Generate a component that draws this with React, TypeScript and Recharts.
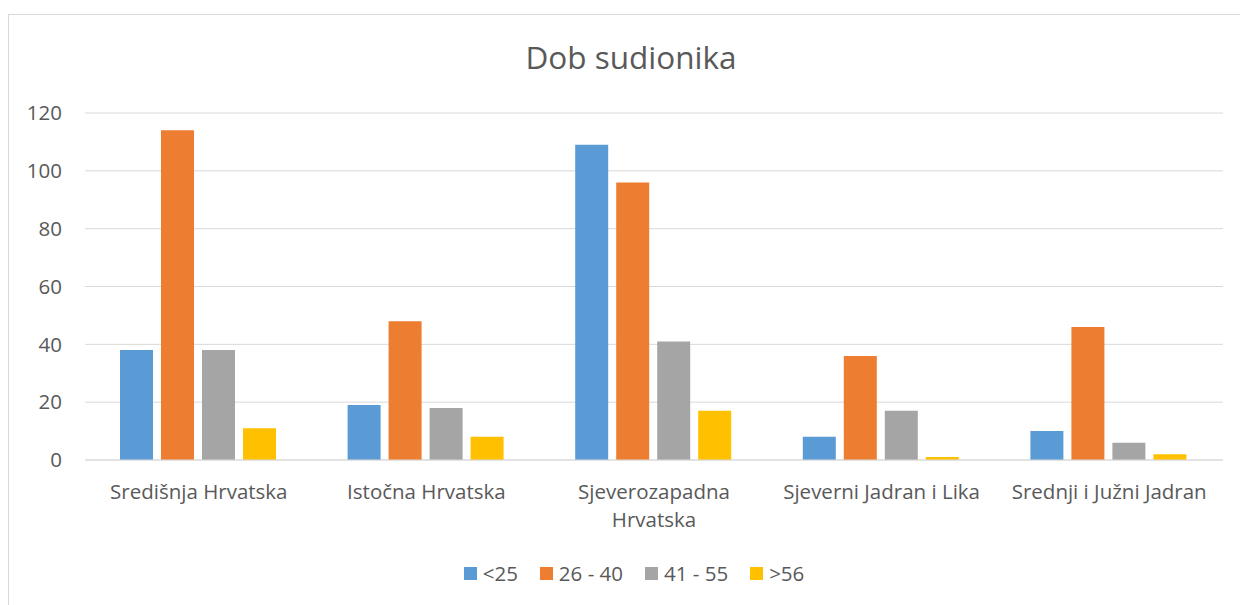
import React from 'react';
import { BarChart, Bar, XAxis, YAxis, CartesianGrid, Legend } from 'recharts';

const regions = [
  'Središnja Hrvatska',
  'Istočna Hrvatska',
  'Sjeverozapadna Hrvatska',
  'Sjeverni Jadran i Lika',
  'Srednji i Južni Jadran',
];

const under25 = [38, 19, 109, 8, 10];
const age26to40 = [114, 48, 96, 36, 46];
const age41to55 = [38, 18, 41, 17, 6];
const over56 = [11, 8, 17, 1, 2];

const yTicks = [0, 20, 40, 60, 80, 100, 120];

const series = [
  { key: 'a', name: '<25', color: '#5B9BD5', values: under25 },
  { key: 'b', name: '26 - 40', color: '#ED7D31', values: age26to40 },
  { key: 'c', name: '41 - 55', color: '#A5A5A5', values: age41to55 },
  { key: 'd', name: '>56', color: '#FFC000', values: over56 },
];

const data = regions.map((region, i) => {
  const row: Record<string, string | number> = { region };
  series.forEach((s) => {
    row[s.key] = s.values[i];
  });
  return row;
});

const FONT = '"Open Sans", sans-serif';
const TEXT = '#595959';
const FS = 20.5;

// greedy word wrap, measured with a canvas so it matches the rendered font
let ctx: CanvasRenderingContext2D | null = null;
const wrap = (label: string, maxWidth: number) => {
  if (!ctx) {
    ctx = document.createElement('canvas').getContext('2d');
  }
  if (!ctx) return [label];
  ctx.font = `${FS}px ${FONT}`;
  const lines: string[] = [];
  let cur = '';
  label.split(' ').forEach((w) => {
    const next = cur ? `${cur} ${w}` : w;
    if (cur && ctx!.measureText(next).width > maxWidth) {
      lines.push(cur);
      cur = w;
    } else {
      cur = next;
    }
  });
  if (cur) lines.push(cur);
  return lines;
};

const CategoryTick = (props: any) => {
  const { x, y, payload } = props;
  const lines = wrap(String(payload.value), 222);
  return (
    <text x={x} y={y + 39} textAnchor="middle" fill={TEXT} fontSize={FS} fontFamily={FONT}>
      {lines.map((line, i) => (
        <tspan key={i} x={x} dy={i === 0 ? 0 : 28}>
          {line}
        </tspan>
      ))}
    </text>
  );
};

const LegendContent = () => (
  <div style={{ display: 'flex', justifyContent: 'center', gap: 22, fontFamily: FONT, fontSize: FS, color: TEXT }}>
    {series.map((s) => (
      <div key={s.key} style={{ display: 'flex', alignItems: 'center' }}>
        <span style={{ width: 13, height: 13, background: s.color, marginRight: 6, display: 'inline-block' }} />
        <span>{s.name}</span>
      </div>
    ))}
  </div>
);

const App = () => {
  return (
    <div style={{ position: 'absolute', left: 0, top: 0, width: 1240, height: 605, overflow: 'hidden', background: '#fff' }}>
      <div
        style={{
          position: 'absolute',
          left: 8,
          top: 14,
          width: 1260,
          height: 620,
          border: '1px solid #D9D9D9',
        }}
      />
      <div
        style={{
          position: 'absolute',
          left: 0,
          width: 1262,
          top: 41,
          textAlign: 'center',
          fontFamily: FONT,
          fontSize: 31.5,
          lineHeight: '32px',
          color: TEXT,
        }}
      >
        Dob sudionika
      </div>
      <div style={{ position: 'absolute', left: 0, top: 0 }}>
        <BarChart
          width={1240}
          height={605}
          data={data}
          margin={{ top: 113, right: 17, left: 0, bottom: 85 }}
          barCategoryGap={35}
          barGap={8}
        >
          <CartesianGrid vertical={false} stroke="#D9D9D9" strokeWidth={1} />
          <XAxis
            dataKey="region"
            height={60}
            axisLine={{ stroke: '#D9D9D9' }}
            tickLine={false}
            tickSize={0}
            tickMargin={0}
            interval={0}
            tick={<CategoryTick />}
          />
          <YAxis
            width={85}
            domain={[0, 120]}
            ticks={yTicks}
            axisLine={false}
            tickLine={false}
            tickSize={0}
            tickMargin={23}
            tick={{ fill: TEXT, fontSize: FS, fontFamily: FONT }}
          />
          <Legend
            layout="horizontal"
            verticalAlign="middle"
            align="center"
            content={<LegendContent />}
            wrapperStyle={{ top: 559, left: 0, width: 1268 }}
          />
          {series.map((s) => (
            <Bar key={s.key} dataKey={s.key} name={s.name} fill={s.color} isAnimationActive={false} />
          ))}
        </BarChart>
      </div>
    </div>
  );
};

export default App;
